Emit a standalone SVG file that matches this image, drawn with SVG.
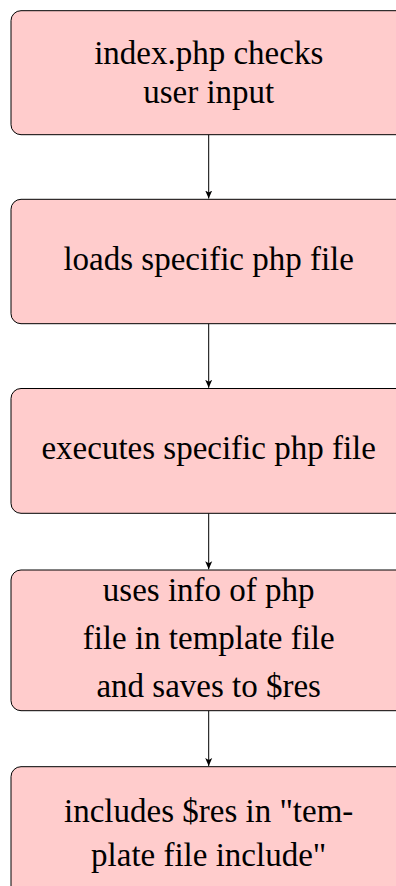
<svg xmlns="http://www.w3.org/2000/svg" width="396" height="886" viewBox="0 0 396 886">
  <style>
    .box { fill: #ffcccc; stroke: #000; stroke-width: 1; }
    .edge { stroke: #000; stroke-width: 1; fill: none; marker-end: url(#arrow); }
  </style>
  <defs>
    <marker id="arrow" viewBox="0 0 8 10" refX="8" refY="5" markerWidth="8" markerHeight="10" markerUnits="userSpaceOnUse" orient="auto">
      <path d="M0,1.5 L8,5 L0,8.5 L2,5 Z" fill="#000"/>
    </marker>
  </defs>
  <rect width="396" height="886" fill="#fff"/>

  <g id="connectors">
    <line class="edge" x1="208.7" y1="134.7" x2="208.7" y2="198.5"/>
    <line class="edge" x1="208.7" y1="323.7" x2="208.7" y2="387.8"/>
    <line class="edge" x1="208.7" y1="513.3" x2="208.7" y2="569.3"/>
    <line class="edge" x1="208.7" y1="710.7" x2="208.7" y2="766"/>
  </g>

  <!-- node labels -->
  <g font-family="Liberation Serif, serif" font-size="33" fill="#000" text-anchor="middle">
    <g id="n1">
      <rect class="box" x="11" y="10.7" width="395.4" height="124" rx="10"/>
      <text x="208.7" y="64">index.php checks</text>
      <text x="208.7" y="103.3">user input</text>
    </g>

    <g id="n2">
      <rect class="box" x="11" y="199.3" width="395.4" height="124.4" rx="10"/>
      <text x="208.7" y="270">loads specific php file</text>
    </g>

    <g id="n3">
      <rect class="box" x="11" y="388.5" width="395.4" height="124.8" rx="10"/>
      <text x="208.7" y="459">executes specific php file</text>
    </g>

    <g id="n4">
      <rect class="box" x="11" y="570" width="395.4" height="140.7" rx="10"/>
      <text x="208.7" y="601">uses info of php</text>
      <text x="208.7" y="649">file in template file</text>
      <text x="208.7" y="696.7">and saves to $res</text>
    </g>

    <g id="n5">
      <rect class="box" x="11" y="766.7" width="395.4" height="140" rx="10"/>
      <text x="208.7" y="822.3">includes $res in "tem-</text>
      <text x="208.7" y="866">plate file include"</text>
    </g>
  </g>
</svg>
